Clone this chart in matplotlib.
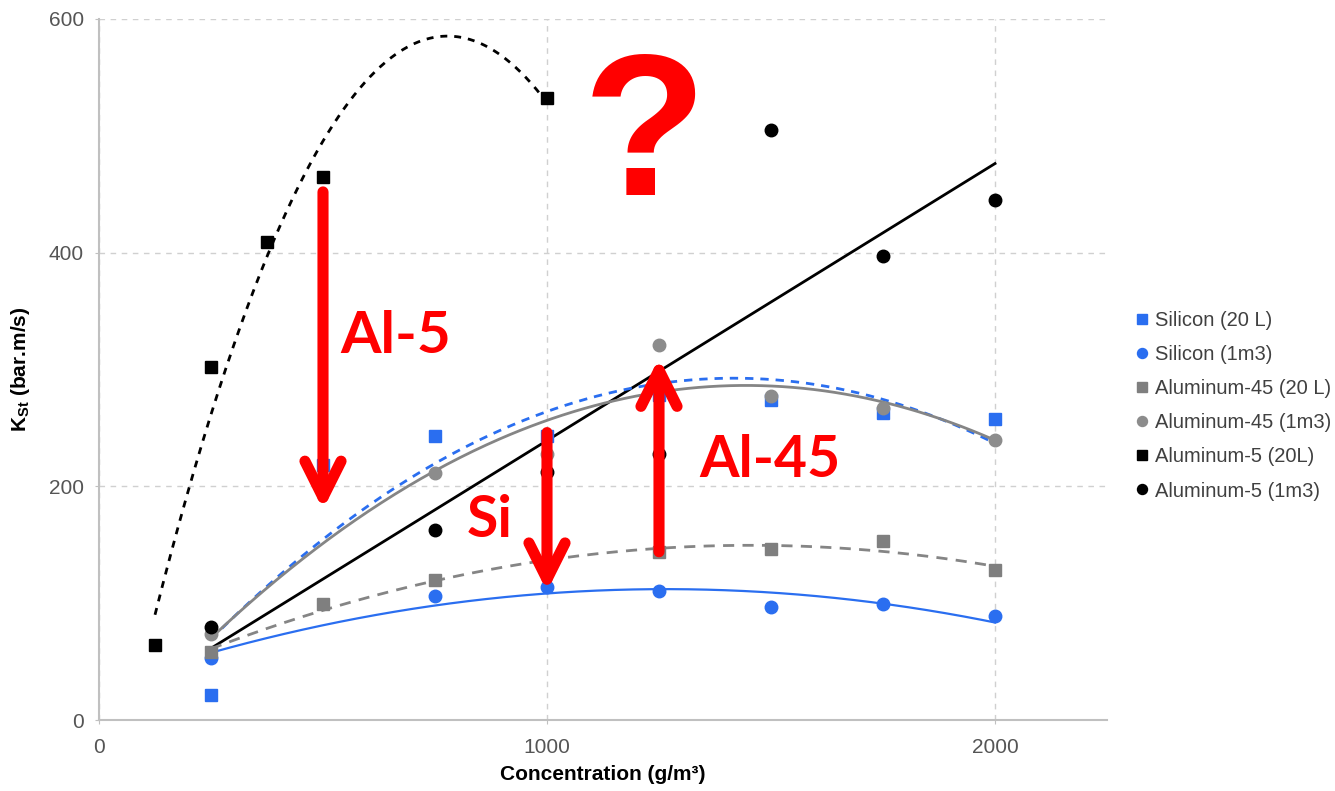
import numpy as np
import matplotlib.pyplot as plt

plt.rcParams['font.family'] = ['Liberation Sans', 'DejaVu Sans']
plt.rcParams['mathtext.fontset'] = 'custom'
plt.rcParams['mathtext.bf'] = 'Liberation Sans:bold'
plt.rcParams['mathtext.rm'] = 'Liberation Sans'

# values (concentration g/m3, Kst bar.m/s)
si20_x = [250, 500, 750, 1000, 1250, 1500, 1750, 2000]
si20_y = [21, 218, 243, 243, 278, 274, 263, 258]
si1_x = [250, 750, 1000, 1250, 1500, 1750, 2000]
si1_y = [53, 106, 114, 110, 97, 99, 89]
al45_20_x = [250, 500, 750, 1000, 1250, 1500, 1750, 2000]
al45_20_y = [58, 99, 120, 135, 144, 146, 153, 128]
al45_1_x = [250, 750, 1000, 1250, 1500, 1750, 2000]
al45_1_y = [74, 211, 228, 321, 277, 267, 240]
al5_20_x = [125, 250, 375, 500, 1000]
al5_20_y = [64, 302, 409, 465, 532]
al5_1_x = [250, 750, 1000, 1250, 1500, 1750, 2000]
al5_1_y = [80, 163, 212, 228, 505, 397, 445]

labels = ['Silicon (20 L)', 'Silicon (1m3)', 'Aluminum-45 (20 L)',
          'Aluminum-45 (1m3)', 'Aluminum-5 (20L)', 'Aluminum-5 (1m3)']

blue = '#2a6ef0'
gray = '#858585'


def trend(x, y, deg):
    c = np.polyfit(x, y, deg)
    xs = np.linspace(min(x), max(x), 300)
    return xs, np.polyval(c, xs)


fig = plt.figure(figsize=(13.35, 7.91), dpi=100)
ax = fig.add_axes([99 / 1335, 1 - 720 / 791, 1008 / 1335, 701 / 791])

# trendlines (polynomial / linear, like the spreadsheet ones)
ax.plot(*trend(al5_20_x, al5_20_y, 2), color='black', lw=2, ls=(0, (2.5, 2.5)), zorder=2)
ax.plot(*trend(al5_1_x, al5_1_y, 1), color='black', lw=2, zorder=2)
ax.plot(*trend(si20_x, si20_y, 2), color=blue, lw=2, ls=(0, (3, 2.5)), zorder=2)
ax.plot(*trend(si1_x, si1_y, 2), color=blue, lw=1.6, zorder=2)
ax.plot(*trend(al45_20_x, al45_20_y, 2), color=gray, lw=2, ls=(0, (4, 3)), zorder=2)
ax.plot(*trend(al45_1_x, al45_1_y, 2), color=gray, lw=2, zorder=2)

# data points
h = []
h += ax.plot(si20_x, si20_y, 's', ms=9, color=blue, zorder=3)
h += ax.plot(si1_x, si1_y, 'o', ms=9, color=blue, zorder=3)
h += ax.plot(al45_20_x, al45_20_y, 's', ms=9, color='#7f7f7f', zorder=3)
h += ax.plot(al45_1_x, al45_1_y, 'o', ms=9, color='#8c8c8c', zorder=3)
h += ax.plot(al5_20_x, al5_20_y, 's', ms=9, color='black', zorder=3)
h += ax.plot(al5_1_x, al5_1_y, 'o', ms=9, color='black', zorder=3)

# red annotations
arrow = dict(arrowstyle='->,head_length=1.3,head_width=0.65', lw=8, color='red',
             shrinkA=0, shrinkB=0, mutation_scale=20)
ax.annotate('', xy=(500, 180), xytext=(500, 452), arrowprops=arrow, zorder=5)
ax.annotate('', xy=(1000, 110), xytext=(1000, 246), arrowprops=arrow, zorder=5)
ax.annotate('', xy=(1250, 310), xytext=(1250, 144), arrowprops=arrow, zorder=5)

big = dict(color='red', fontweight='bold', family='Lato', va='baseline', zorder=6)
ax.text(538, 314, 'Al-5', fontsize=42, **big)
ax.text(820, 157, 'Si', fontsize=41, **big)
ax.text(1340, 208, 'Al-45', fontsize=41, **big)
ax.text(1217, 449, '?', fontsize=146, color='red', fontweight='bold',
        family='Liberation Sans', ha='center', va='baseline', zorder=6)

# axes styling
ax.set_xlim(0, 2250)
ax.set_ylim(0, 600)
ax.set_xticks([0, 1000, 2000])
ax.set_yticks([0, 200, 400, 600])
ax.grid(True, ls=(0, (4, 4)), color='#d0d0d0', lw=1)
ax.set_axisbelow(True)
for s in ['top', 'right']:
    ax.spines[s].set_visible(False)
for s in ['left', 'bottom']:
    ax.spines[s].set_color('#c0c0c0')
    ax.spines[s].set_linewidth(1.5)
ax.tick_params(length=3, color='#c0c0c0', labelsize=15, labelcolor='#555555', pad=8)
ax.tick_params(axis='y', pad=8)
ax.tick_params(axis='x', pad=10)

ax.set_xlabel('Concentration (g/m³)', fontsize=15, fontweight='bold')
ax.xaxis.set_label_coords(0.5, -0.064)
ax.set_ylabel(r'$\mathbf{K_{St}}$ (bar.m/s)', fontsize=15, fontweight='bold')
ax.yaxis.set_label_coords(-0.066, 0.5)

ax.legend(h, labels, loc='upper left', bbox_to_anchor=(1135 / 1335, 1 - 311 / 791),
          bbox_transform=fig.transFigure, frameon=False, fontsize=14.5,
          handlelength=0.7, handletextpad=0.3, labelspacing=0.75, borderpad=0,
          borderaxespad=0, markerscale=0.8, labelcolor='#404040')

fig.savefig('out.png', dpi=100)
